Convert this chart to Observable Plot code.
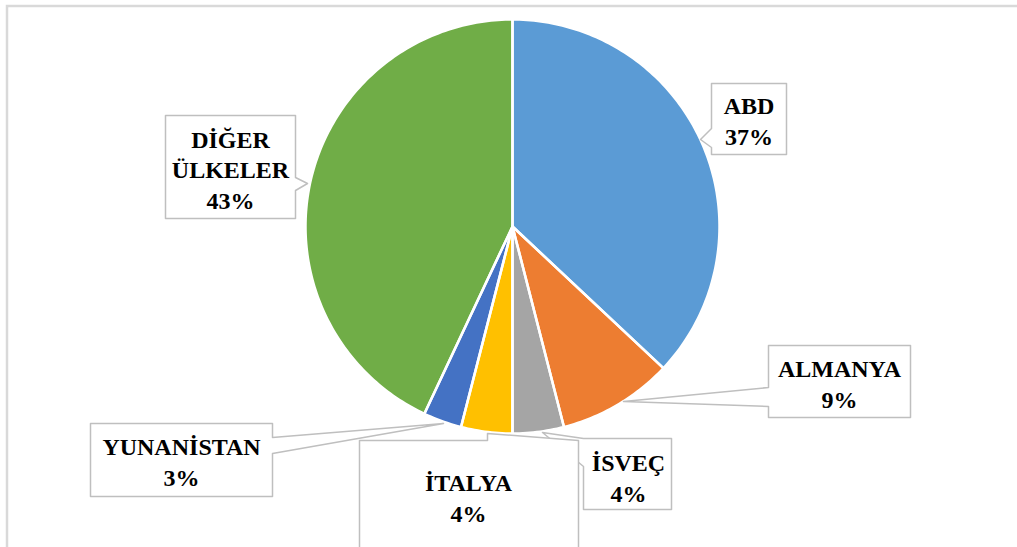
<!DOCTYPE html>
<html>
<head>
<meta charset="utf-8">
<script src="https://cdn.jsdelivr.net/npm/d3@7"></script>
<script src="https://cdn.jsdelivr.net/npm/@observablehq/plot@0.6"></script>
<style>
  html, body { margin: 0; padding: 0; background: #fff; }
  #chart svg { display: block; }
  #chart svg text { font-family: "Liberation Serif", "DejaVu Serif", serif !important; font-weight: 700; }
</style>
</head>
<body>
<div id="chart"></div>
<script>
// ---- data ----
const countries = ["ABD", "ALMANYA", "İSVEÇ", "İTALYA", "YUNANİSTAN", "DİĞER ÜLKELER"];
const shares = [37, 9, 4, 4, 3, 43];
const colors = ["#5B9BD5", "#ED7D31", "#A5A5A5", "#FFC000", "#4472C4", "#70AD47"];
const labelLines = [["ABD"], ["ALMANYA"], ["İSVEÇ"], ["İTALYA"], ["YUNANİSTAN"], ["DİĞER", "ÜLKELER"]];

// ---- layout (chart coordinate space) ----
const W = 1017, H = 547;
const cx = 512, cy = 226, R = 207;
const callouts = [
  {pts: [[711,83],[786,83],[786,154],[711,154],[711,147],[700,139],[711,128]], tx: 748.5, ty: 144},
  {pts: [[768,345],[910,345],[910,417],[768,417],[768,406],[623,401],[768,387]], tx: 839, ty: 407},
  {pts: [[583,438],[671,438],[671,509],[583,509],[583,466],[542,432]], tx: 628, ty: 501},
  {pts: [[359,440],[487,440],[487,433],[578,440],[578,600],[359,600]], tx: 468, ty: 521},
  {pts: [[90,423],[272,423],[272,437],[443,423],[272,453],[272,496],[90,496]], tx: 181, ty: 485},
  {pts: [[165,115],[295,115],[295,177],[307,183],[295,190],[295,218],[165,218]], tx: 230, ty: 208}
];

// ---- build slice polygons from data ----
const arcs = d3.pie().sort(null).value(d => d)(shares);
const slicePts = [];
arcs.forEach((a, i) => {
  const name = countries[i];
  slicePts.push({name, x: cx, y: cy});
  const n = Math.max(4, Math.ceil((a.endAngle - a.startAngle) / (Math.PI / 180)));
  for (let k = 0; k <= n; k++) {
    const t = a.startAngle + (a.endAngle - a.startAngle) * k / n;
    slicePts.push({name, x: cx + R * Math.sin(t), y: cy - R * Math.cos(t)});
  }
  slicePts.push({name, x: cx, y: cy});
});

const calloutPts = [];
callouts.forEach((c, i) => {
  c.pts.concat([c.pts[0]]).forEach(p => calloutPts.push({id: i, x: p[0], y: p[1]}));
});

const labels = countries.map((c, i) => ({
  text: labelLines[i].concat([shares[i] + "%"]).join("\n"),
  x: callouts[i].tx,
  y: callouts[i].ty
}));

const chart = Plot.plot({
  width: W,
  height: H,
  margin: 0,
  style: {background: "#fff"},
  x: {domain: [0, W], range: [0, W], axis: null},
  y: {domain: [0, H], range: [0, H], axis: null},
  color: {domain: countries, range: colors},
  marks: [
    Plot.rect([{x1: 7, y1: 6, x2: W + 20, y2: H + 20}], {
      x1: "x1", y1: "y1", x2: "x2", y2: "y2",
      fill: "none", stroke: "#D9D9D9", strokeWidth: 2.5
    }),
    Plot.line(slicePts, {x: "x", y: "y", z: "name", fill: "name", stroke: null}),
    Plot.line(slicePts, {x: "x", y: "y", z: "name", stroke: "white", strokeWidth: 2.5, strokeLinejoin: "round"}),
    Plot.line(calloutPts, {x: "x", y: "y", z: "id", fill: "white", stroke: "#BFBFBF", strokeWidth: 1.5}),
    Plot.text(labels, {
      x: "x", y: "y", text: "text",
      lineAnchor: "bottom", lineHeight: 1.27,
      fontFamily: "Liberation Serif", fontWeight: "bold", fontSize: 24,
      fill: "#000"
    })
  ]
});
document.getElementById("chart").appendChild(chart);
</script>
</body>
</html>
